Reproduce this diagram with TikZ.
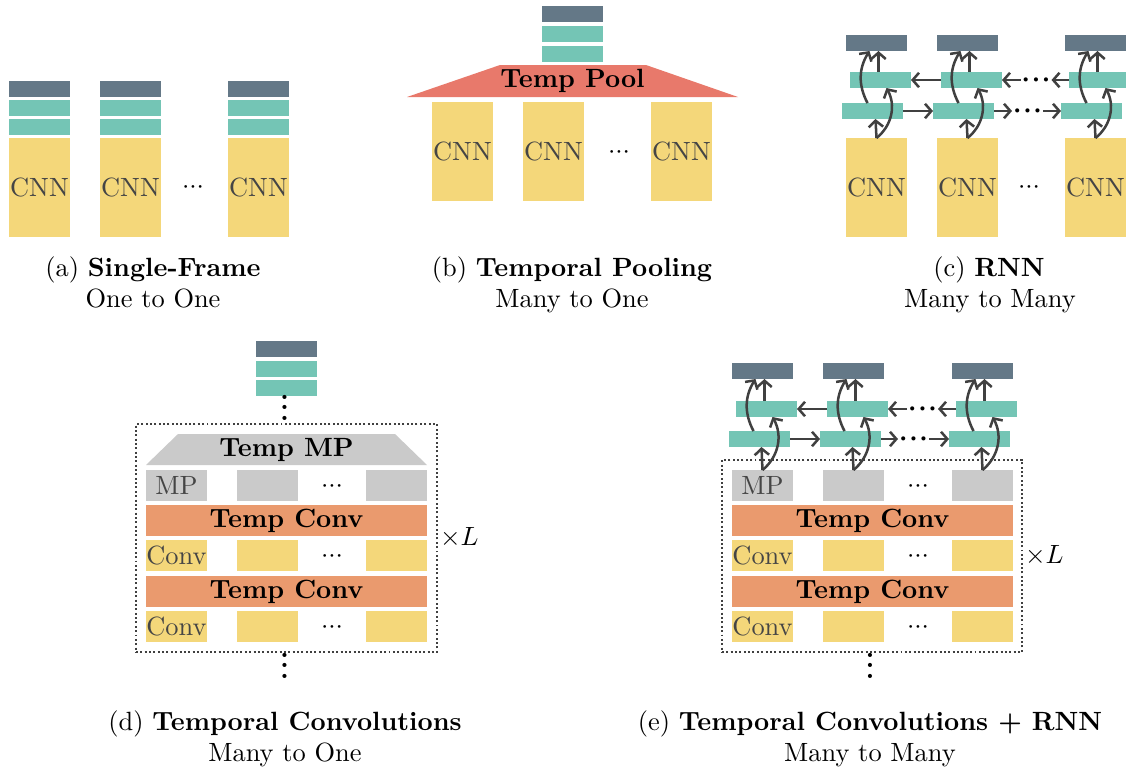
\documentclass[tikz,border=0pt]{standalone}
\usetikzlibrary{arrows.meta,calc}
\def\pxu{0.379pt}
\newcommand\tdots{$\mathord{\cdotp}\mathord{\cdotp}\mathord{\cdotp}$}
\newcommand\bdots{{\boldmath$\mathord{\cdotp}\mkern1mu\mathord{\cdotp}\mkern1mu\mathord{\cdotp}$}}
\newcommand\vdts{\smash{\bfseries$\vdots$}}
\definecolor{cdark}{HTML}{647887}
\definecolor{cteal}{HTML}{74C5B5}
\definecolor{cyel}{HTML}{F4D77A}
\definecolor{cpool}{HTML}{E8796B}
\definecolor{cconv}{HTML}{EA9A6E}
\definecolor{cgray}{HTML}{CACACA}
\definecolor{carrow}{HTML}{404040}
\definecolor{ctext}{HTML}{454545}
\begin{document}
\begin{tikzpicture}[x=\pxu, y=-\pxu,
  blk/.style={inner sep=0pt, outer sep=0pt, minimum width=61*\pxu, minimum height=16*\pxu},
  darkb/.style={blk, fill=cdark},
  tealb/.style={blk, fill=cteal},
  cnnb/.style={blk, fill=cyel, minimum height=99*\pxu, text=ctext},
  rowb/.style={blk, minimum height=31*\pxu},
  mpb/.style={rowb, fill=cgray, text=ctext},
  convb/.style={rowb, fill=cyel, text=ctext},
  tconv/.style={rowb, fill=cconv, minimum width=281*\pxu, font=\bfseries},
  arr/.style={draw=carrow, line width=0.95pt, -{Straight Barb[length=2.4pt,width=5.5pt]}},
  dotbox/.style={draw=carrow, line width=0.75pt, dash pattern=on 0.75pt off 0.9pt, inner sep=0pt, outer sep=0pt},
  cdts/.style={inner sep=0pt, outer sep=0pt, text height=5pt, text depth=0pt},
  hdots/.style={cdts, minimum width=31*\pxu},
  vdotn/.style={inner sep=0pt, anchor=base},
  captxt/.style={inner sep=0pt, anchor=base},
]
\fill[white] (0,0) rectangle (1126,767);
\useasboundingbox (0,0) rectangle (1126,767);

% ---------- (a) Single-Frame ----------
\foreach \i/\x in {1/39.5, 2/130.5, 3/258.5}{
  \node[darkb] (ad\i) at (\x,89) {};
  \node[tealb] (at\i) at (\x,108) {};
  \node[tealb] (as\i) at (\x,127) {};
  \node[cnnb] (ac\i) at (\x,187.5) {CNN};
}
\node[cdts] (adots) at (193,187) {\tdots};
\node[captxt] (acap1) at (153,276) {(a) \textbf{Single-Frame}};
\node[captxt] (acap2) at (153,307) {One to One};

% ---------- (b) Temporal Pooling ----------
\node[darkb] (bd) at (572.5,14) {};
\node[tealb] (bt1) at (572.5,34) {};
\node[tealb] (bt2) at (572.5,54) {};
\fill[cpool] (407,97) -- (500,65) -- (646,65) -- (738,97) -- cycle;
\node[font=\bfseries, inner sep=0pt] (bpool) at (572.5,81) {Temp Pool};
\foreach \i/\x in {1/462.5, 2/553.5, 3/681.5}{
  \node[cnnb] (bc\i) at (\x,151.5) {CNN};
}
\node[cdts] (bdots) at (619,152) {\tdots};
\node[captxt] (bcap1) at (572,276) {(b) \textbf{Temporal Pooling}};
\node[captxt] (bcap2) at (572,307) {Many to One};

% ---------- (c) RNN ----------
\foreach \i/\x in {1/876.5, 2/967.5, 3/1095.5}{
  \node[darkb] (cd\i) at (\x,43) {};
  \node[tealb] (cu\i) at (\x+4,80) {};
  \node[tealb] (cl\i) at (\x-4,111) {};
  \node[cnnb] (cc\i) at (\x,187.5) {CNN};
}
\node[cdts] (cdots) at (1029,187) {\tdots};
\node[hdots] (cdl) at (1027.5,111) {\bdots};
\node[hdots] (cdu) at (1036,80) {\bdots};
\draw[arr] (cl1.east) -- (cl2.west);
\draw[arr] (cl2.east) -- (cdl.west);
\draw[arr] (cdl.east) -- (cl3.west);
\draw[arr] (cu2.west) -- (cu1.east);
\draw[arr] (cdu.west) -- (cu2.east);
\draw[arr] (cu3.west) -- (cdu.east);
\foreach \i in {1,2,3}{
  \draw[arr] (cc\i.north) -- ([xshift=3*\pxu]cl\i.south);
  \draw[arr] (cc\i.north) to[bend right=40] ([xshift=6*\pxu]cu\i.south);
  \draw[arr] ([xshift=-5*\pxu]cl\i.north) to[bend left=30] ([xshift=-7*\pxu]cd\i.south);
  \draw[arr] ([xshift=-2*\pxu]cu\i.north) -- ([xshift=2*\pxu]cd\i.south);
}
\node[captxt] (ccap1) at (989,276) {(c) \textbf{RNN}};
\node[captxt] (ccap2) at (990,307) {Many to Many};

% ---------- (d) Temporal Convolutions ----------
\node[darkb] (dd) at (286.5,349) {};
\node[tealb] (dt1) at (286.5,369) {};
\node[tealb] (dt2) at (286.5,388) {};
\node[vdotn] (dv1) at (284.5,420.5) {\vdts};
\node[dotbox, minimum width=301*\pxu, minimum height=228*\pxu] (dbox) at (286.5,538) {};
\node[anchor=west, inner sep=1pt] (dL) at (dbox.east) {$\times L$};
\fill[cgray] (146,465) -- (178,434) -- (395,434) -- (427,465) -- cycle;
\node[font=\bfseries, inner sep=0pt] (dtmp) at (286.5,450) {Temp MP};
\node[mpb] (dm1) at (176.5,485.5) {MP};
\node[mpb] (dm2) at (267.5,485.5) {};
\node[mpb] (dm3) at (396.5,485.5) {};
\node[cdts] (dmd) at (332,486) {\tdots};
\node[tconv] (dtc1) at (286.5,520.5) {Temp Conv};
\node[convb] (dc11) at (176.5,555.5) {Conv};
\node[convb] (dc12) at (267.5,555.5) {};
\node[convb] (dc13) at (396.5,555.5) {};
\node[cdts] (dcd1) at (332,556) {\tdots};
\node[tconv] (dtc2) at (286.5,591.5) {Temp Conv};
\node[convb] (dc21) at (176.5,626.5) {Conv};
\node[convb] (dc22) at (267.5,626.5) {};
\node[convb] (dc23) at (396.5,626.5) {};
\node[cdts] (dcd2) at (332,627) {\tdots};
\node[vdotn] (dv2) at (284.5,678.5) {\vdts};
\node[captxt] (dcap1) at (285,730) {(d) \textbf{Temporal Convolutions}};
\node[captxt] (dcap2) at (285,761) {Many to One};

% ---------- (e) Temporal Convolutions + RNN ----------
\foreach \i/\x in {1/762.5, 2/853.5, 3/982.5}{
  \node[darkb] (ed\i) at (\x,371) {};
  \node[tealb] (eu\i) at (\x+4,409) {};
  \node[tealb] (el\i) at (\x-3,439) {};
}
\node[dotbox, minimum width=300*\pxu, minimum height=192*\pxu] (ebox) at (872,556) {};
\node[anchor=west, inner sep=1pt] (eL) at (ebox.east) {$\times L$};
\node[mpb] (em1) at (762.5,485.5) {MP};
\node[mpb] (em2) at (853.5,485.5) {};
\node[mpb] (em3) at (982.5,485.5) {};
\node[cdts] (emd) at (918,486) {\tdots};
\node[tconv] (etc1) at (872.5,520.5) {Temp Conv};
\node[convb] (ec11) at (762.5,555.5) {Conv};
\node[convb] (ec12) at (853.5,555.5) {};
\node[convb] (ec13) at (982.5,555.5) {};
\node[cdts] (ecd1) at (918,556) {\tdots};
\node[tconv] (etc2) at (872.5,591.5) {Temp Conv};
\node[convb] (ec21) at (762.5,626.5) {Conv};
\node[convb] (ec22) at (853.5,626.5) {};
\node[convb] (ec23) at (982.5,626.5) {};
\node[cdts] (ecd2) at (918,627) {\tdots};
\node[vdotn] (ev2) at (870,678.5) {\vdts};
\node[hdots] (edl) at (913.5,439) {\bdots};
\node[hdots] (edu) at (922.5,409) {\bdots};
\draw[arr] (el1.east) -- (el2.west);
\draw[arr] (el2.east) -- (edl.west);
\draw[arr] (edl.east) -- (el3.west);
\draw[arr] (eu2.west) -- (eu1.east);
\draw[arr] (edu.west) -- (eu2.east);
\draw[arr] (eu3.west) -- (edu.east);
\foreach \i in {1,2,3}{
  \draw[arr] (em\i.north) -- ([xshift=2*\pxu]el\i.south);
  \draw[arr] (em\i.north) to[bend right=40] ([xshift=6*\pxu]eu\i.south);
  \draw[arr] ([xshift=-6*\pxu]el\i.north) to[bend left=30] ([xshift=-7*\pxu]ed\i.south);
  \draw[arr] ([xshift=-2*\pxu]eu\i.north) -- ([xshift=2*\pxu]ed\i.south);
}
\node[captxt] (ecap1) at (870,730) {(e) \textbf{Temporal Convolutions + RNN}};
\node[captxt] (ecap2) at (870,761) {Many to Many};
\end{tikzpicture}
\end{document}
